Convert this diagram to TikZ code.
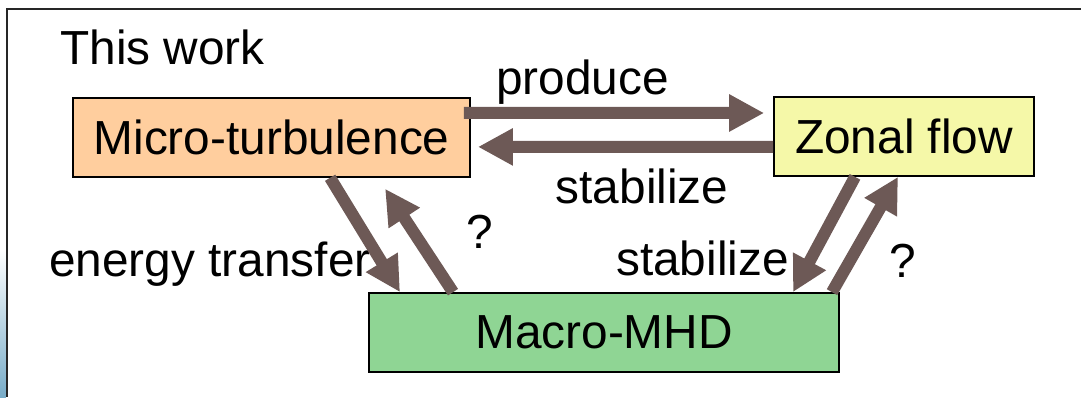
\documentclass[tikz,border=0pt]{standalone}
\usepackage{fontspec}
\setmainfont{Liberation Sans}
\usepackage{tikz}
\usetikzlibrary{arrows.meta}
\definecolor{microfill}{RGB}{255,206,158}
\definecolor{zonalfill}{RGB}{245,248,168}
\definecolor{macrofill}{RGB}{143,213,148}
\definecolor{arrowbrown}{RGB}{109,89,86}
\definecolor{edgeblue}{RGB}{120,172,200}
\tikzset{%
  bigarrow/.style = {draw=arrowbrown,line width=0.3cm,
        -{Triangle[length=0.875cm,width=0.875cm]}},
  box/.style = {rectangle,draw,line width=1.2pt,minimum height=1.975cm,
        inner sep=0pt},
  lbl/.style = {anchor=base,inner sep=0pt}
}
\begin{document}
\begin{tikzpicture}[
every node/.style={font=\fontsize{34}{40}\selectfont}
]
\useasboundingbox (0,0) rectangle (27.025,9.925);
\shade[top color=white,bottom color=edgeblue] (0,0) rectangle (0.15,3.7);
\draw[line width=1.4pt,black!85] (0.175,0) -- (0.175,9.7) -- (27.1,9.7);
\node[lbl,anchor=base west] (thiswork) at (1.5,8.3) {This work};
\node[box,fill=microfill,minimum width=9.925cm] (micro) at (6.79,6.49) {Micro-turbulence};
\node[box,fill=zonalfill,minimum width=6.5cm] (zonal) at (22.6,6.5125) {Zonal flow};
\node[box,fill=macrofill,minimum width=11.75cm] (macro) at (15.1,1.6125) {Macro-MHD};
\node[lbl] (produce) at (14.5625,7.55) {produce};
\node[lbl] (stabtop) at (16.05,4.85) {stabilize};
\node[lbl] (energy) at (5.25,3.025) {energy transfer};
\node[lbl] (stabbot) at (17.5625,3.05) {stabilize};
\node[lbl] (qleft) at (12.0,3.725) {?};
\node[lbl] (qright) at (22.575,3.0) {?};
\draw[bigarrow] ([xshift=-0.175cm,yshift=0.6125cm]micro.east)
    -- ([xshift=-0.225cm,yshift=0.5875cm]zonal.west);
\draw[bigarrow] ([yshift=-0.2625cm]zonal.west)
    -- ([xshift=0.175cm,yshift=-0.2375cm]micro.east);
\draw[bigarrow] ([xshift=1.4625cm]micro.south) -- ([xshift=-5.1cm]macro.north);
\draw[bigarrow] ([xshift=-3.775cm]macro.north)
    -- ([xshift=2.8375cm,yshift=-0.275cm]micro.south);
\draw[bigarrow] ([xshift=-1.225cm]zonal.south) -- ([xshift=4.725cm]macro.north);
\draw[bigarrow] ([xshift=5.7cm]macro.north) -- ([xshift=-0.15cm]zonal.south);
\end{tikzpicture}
\end{document}
